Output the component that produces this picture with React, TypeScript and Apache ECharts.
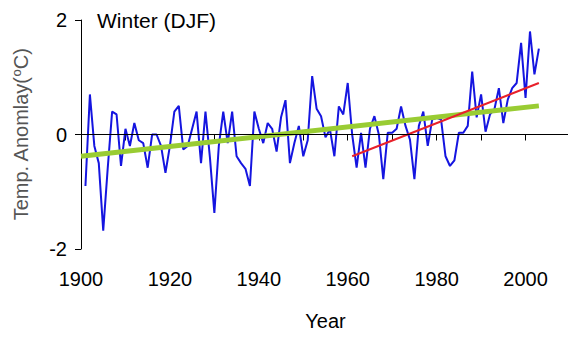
import React, { useEffect, useRef } from "react";
import * as echarts from "echarts";

const startYear = 1901;
const winterAnomaly = [
  -0.9, 0.7, -0.2, -0.5, -1.68, -0.6, 0.4, 0.35, -0.55, 0.1,
  -0.2, 0.2, -0.1, -0.15, -0.58, 0.0, 0.0, -0.2, -0.67, -0.2,
  0.4, 0.5, -0.26, -0.2, 0.1, 0.4, -0.5, 0.4, -0.4, -1.37,
  -0.2, 0.4, -0.15, 0.4, -0.38, -0.5, -0.6, -0.9, 0.4, 0.1,
  -0.15, 0.2, 0.1, -0.3, 0.3, 0.6, -0.5, -0.15, 0.15, -0.38,
  -0.1, 1.02, 0.45, 0.32, -0.05, 0.09, -0.38, 0.49, 0.35, 0.9,
  0.0, -0.58, 0.03, -0.58, 0.1, 0.32, 0.0, -0.78, 0.03, 0.03,
  0.1, 0.49, 0.15, -0.09, -0.78, 0.15, 0.4, -0.2, 0.26, 0.29,
  0.26, -0.38, -0.55, -0.45, 0.03, 0.03, 0.15, 1.1, 0.3, 0.7,
  0.05, 0.35, 0.44, 0.81, 0.2, 0.61, 0.81, 0.9, 1.6, 0.64,
  1.8, 1.05, 1.5,
];
const longTrend: [number, number][] = [
  [1900, -0.38],
  [2003, 0.5],
];
const recentTrend: [number, number][] = [
  [1961, -0.38],
  [2003, 0.9],
];
const xTickLabels = [1900, 1920, 1940, 1960, 1980, 2000];
const xTicks = [1900, 1910, 1920, 1930, 1940, 1950, 1960, 1970, 1980, 1990, 2000];

const FONT = "'Liberation Sans', Arial, sans-serif";

export default function App() {
  const ref = useRef<HTMLDivElement>(null);
  useEffect(() => {
    if (!ref.current) return;
    const chart = echarts.init(ref.current, undefined, { renderer: "svg" });
    const blue = winterAnomaly.map((v, i) => [startYear + i, v]);
    chart.setOption({
      animation: false,
      backgroundColor: "#fff",
      title: {
        text: "Winter (DJF)",
        left: 97,
        top: 10,
        padding: 0,
        textStyle: { fontFamily: FONT, fontSize: 21, fontWeight: "normal", color: "#000" },
      },
      grid: {
        left: 81,
        right: -2,
        top: 20,
        bottom: 88,
        containLabel: false,
        outerBoundsMode: "none",
      },
      xAxis: {
        type: "value",
        min: 1900,
        max: 2010,
        interval: 10,
        name: "Year",
        nameLocation: "middle",
        nameGap: 62,
        nameTextStyle: { fontFamily: FONT, fontSize: 20, color: "#000" },
        axisLine: { show: true, lineStyle: { color: "#000", width: 1 } },
        axisTick: {
          show: true,
          length: 6,
          lineStyle: { color: "#000" },
          customValues: xTicks,
        },
        axisLabel: {
          fontFamily: FONT,
          fontSize: 20,
          color: "#000",
          margin: 20,
          customValues: xTickLabels,
          formatter: (v: number) => String(v),
        },
        splitLine: { show: false },
      },
      yAxis: {
        type: "value",
        min: -2,
        max: 2,
        interval: 2,
        name: "{a|Temp. Anomlay(}{s|o}{a|C)}",
        nameLocation: "middle",
        nameGap: 50,
        nameTextStyle: {
          rich: {
            a: { fontFamily: FONT, fontSize: 20, color: "#555" },
            s: { fontFamily: FONT, fontSize: 13, color: "#555", verticalAlign: "top", padding: [0, 0, 8, 0] },
          },
        },
        axisLine: { show: true, lineStyle: { color: "#000", width: 1 } },
        axisTick: { show: true, length: 6, lineStyle: { color: "#000" } },
        axisLabel: { fontFamily: FONT, fontSize: 20, color: "#000", margin: 14 },
        splitLine: { show: false },
      },
      series: [
        {
          type: "line",
          data: blue,
          showSymbol: false,
          lineStyle: { color: "#1515e0", width: 2 },
          z: 2,
          markLine: {
            silent: true,
            symbol: "none",
            label: { show: false },
            lineStyle: { color: "#000", width: 1, type: "solid" },
            data: [{ yAxis: 0 }],
          },
        },
        {
          type: "line",
          data: longTrend,
          showSymbol: false,
          lineStyle: { color: "#99cc33", width: 5 },
          z: 3,
        },
        {
          type: "line",
          data: recentTrend,
          showSymbol: false,
          lineStyle: { color: "#e8202a", width: 2 },
          z: 4,
        },
      ],
    });
    return () => chart.dispose();
  }, []);
  return (
    <div
      ref={ref}
      style={{ position: "fixed", left: 0, top: 0, width: 568, height: 337, background: "#fff" }}
    />
  );
}
